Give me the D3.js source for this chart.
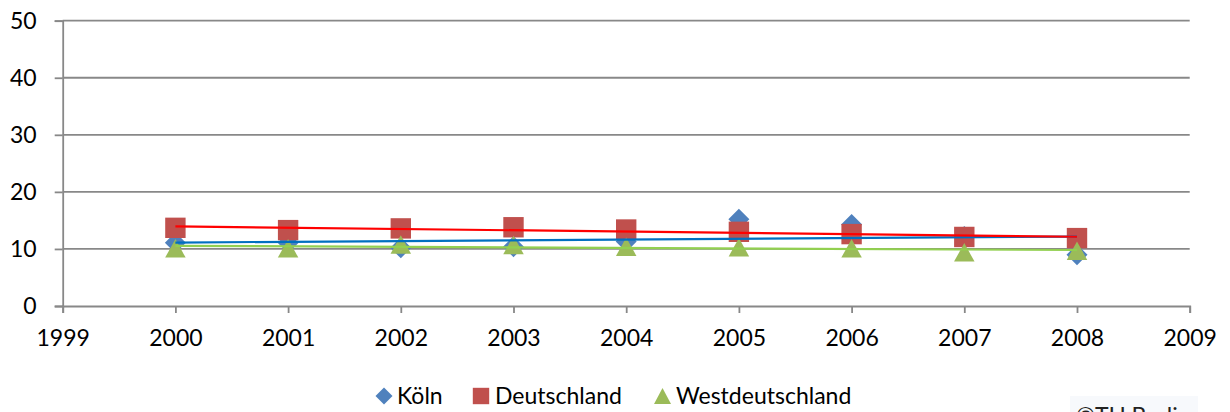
<!DOCTYPE html>
<html>
<head>
<meta charset="utf-8">
<script src="https://cdn.jsdelivr.net/npm/d3@7/dist/d3.min.js"></script>
<style>
  html, body { margin: 0; padding: 0; background: #fff; overflow: hidden; }
  svg { display: block; font-family: Lato, "Open Sans", sans-serif; }
</style>
</head>
<body>
<svg id="chart" width="1230" height="412"></svg>
<script>
// ---- data ----
const years = [2000, 2001, 2002, 2003, 2004, 2005, 2006, 2007, 2008];
const koeln = [11.1, 11.1, 10.2, 10.4, 11.3, 15.2, 14.3, 12.2, 9.0];
const deutschland = [13.7, 13.3, 13.6, 13.8, 13.4, 13.0, 12.6, 12.1, 11.9];
const westdeutschland = [10.1, 10.1, 10.8, 10.7, 10.4, 10.3, 10.1, 9.4, 9.7];
const seriesNames = ["Köln", "Deutschland", "Westdeutschland"];
const yTicks = [0, 10, 20, 30, 40, 50];
const xTicks = [1999, 2000, 2001, 2002, 2003, 2004, 2005, 2006, 2007, 2008, 2009];
const creditText = "©TU Berlin";

// ---- layout ----
const svg = d3.select("#chart");
const plotLeft = 62.7, plotRight = 1189.7, plotTop = 20.7, plotBottom = 306;
const x = d3.scaleLinear().domain([1999, 2009]).range([plotLeft, plotRight]);
const y = d3.scaleLinear().domain([0, 50]).range([plotBottom, plotTop]);

const gridColor = "#888888";
const fontSize = 23;

// gridlines
svg.append("g").selectAll("line").data(yTicks.filter(d => d > 0)).join("line")
  .attr("x1", plotLeft).attr("x2", plotRight)
  .attr("y1", d => y(d)).attr("y2", d => y(d))
  .attr("stroke", gridColor).attr("stroke-width", 1.8);

// y axis
const yAxis = svg.append("g").attr("transform", `translate(${plotLeft},0)`)
  .call(d3.axisLeft(y).tickValues(yTicks).tickSize(8).tickPadding(18).tickFormat(d3.format("d")));
yAxis.select(".domain").attr("stroke", gridColor).attr("stroke-width", 1.8);
yAxis.selectAll(".tick line").attr("stroke", gridColor).attr("stroke-width", 1.8);
yAxis.selectAll(".tick text").attr("font-size", fontSize).attr("fill", "#000")
  .attr("font-family", "Lato, sans-serif");

// x axis
const xAxis = svg.append("g").attr("transform", `translate(0,${plotBottom})`)
  .call(d3.axisBottom(x).tickValues(xTicks).tickSize(7).tickPadding(17).tickFormat(d3.format("d")));
xAxis.select(".domain").attr("stroke", gridColor).attr("stroke-width", 1.8);
xAxis.selectAll(".tick line").attr("stroke", gridColor).attr("stroke-width", 1.8);
xAxis.selectAll(".tick text").attr("font-size", fontSize).attr("fill", "#000")
  .attr("font-family", "Lato, sans-serif");

// marker shapes
const diamond = s => `M0,${-s}L${s},0L0,${s}L${-s},0Z`;
const square = s => `M${-s},${-s}H${s}V${s}H${-s}Z`;
const triangle = (w, h) => `M0,${-h / 2}L${w / 2},${h / 2}L${-w / 2},${h / 2}Z`;

const series = [
  { name: seriesNames[0], values: koeln, fill: "#4F81BD", trend: "#0070C0", path: diamond(10.5) },
  { name: seriesNames[1], values: deutschland, fill: "#C0504D", trend: "#FF0000", path: square(10.2) },
  { name: seriesNames[2], values: westdeutschland, fill: "#9BBB59", trend: "#92D050", path: triangle(20.5, 18.5) }
];

// markers
series.forEach(s => {
  svg.append("g").selectAll("path").data(years.map((yr, i) => [yr, s.values[i]])).join("path")
    .attr("d", s.path)
    .attr("transform", d => `translate(${x(d[0])},${y(d[1])})`)
    .attr("fill", s.fill);
});

// linear trendlines (least squares)
function regress(xs, ys) {
  const mx = d3.mean(xs), my = d3.mean(ys);
  const num = d3.sum(xs, (v, i) => (v - mx) * (ys[i] - my));
  const den = d3.sum(xs, v => (v - mx) * (v - mx));
  const b = num / den;
  return v => my + b * (v - mx);
}
series.forEach(s => {
  const f = regress(years, s.values);
  const x0 = d3.min(years), x1 = d3.max(years);
  svg.append("line")
    .attr("x1", x(x0)).attr("y1", y(f(x0)))
    .attr("x2", x(x1)).attr("y2", y(f(x1)))
    .attr("stroke", s.trend).attr("stroke-width", 2.2);
});

// legend
const legendPos = [
  { mx: 384, tx: 397, path: diamond(8.5) },
  { mx: 481, tx: 495, path: square(8.2) },
  { mx: 662.5, tx: 676, path: triangle(17, 16) }
];
const ly = 396;
series.forEach((s, i) => {
  const p = legendPos[i];
  svg.append("path").attr("d", p.path).attr("transform", `translate(${p.mx},${ly})`).attr("fill", s.fill);
  svg.append("text").attr("x", p.tx).attr("y", ly).attr("dy", "0.36em")
    .attr("font-size", fontSize).attr("fill", "#000").text(s.name);
});

// credit label (partly cut off at the bottom, as in the reference)
svg.append("rect").attr("x", 1070).attr("y", 396).attr("width", 128).attr("height", 30).attr("fill", "#f7f9fc");
svg.append("text").attr("x", 1076).attr("y", 424).attr("font-size", fontSize).attr("fill", "#222").text(creditText);
</script>
</body>
</html>
